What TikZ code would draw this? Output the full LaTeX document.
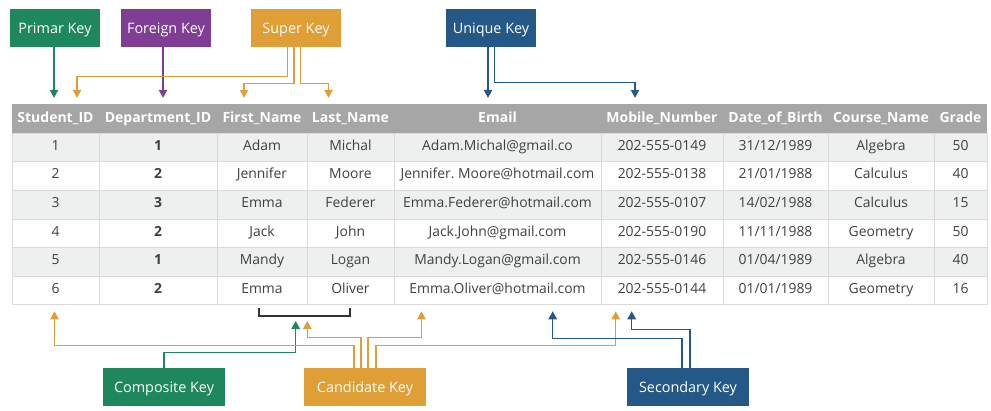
\documentclass[tikz,border=0pt]{standalone}
\usepackage{fontspec}
\setmainfont{Open Sans}
\frenchspacing
\usetikzlibrary{arrows.meta,calc}
\definecolor{pkc}{RGB}{31,135,94}
\definecolor{fkc}{RGB}{128,61,150}
\definecolor{skc}{RGB}{224,158,54}
\definecolor{ukc}{RGB}{36,88,134}
\definecolor{headgrey}{RGB}{165,166,165}
\definecolor{rowgrey}{RGB}{238,240,239}
\definecolor{gridgrey}{RGB}{218,218,218}
\definecolor{bodytext}{RGB}{64,64,64}
\tikzstyle{keybox} = [rectangle, text=white, inner sep=0pt, text height=10.5pt, text depth=0pt,
    minimum width=90pt, minimum height=38pt, font=\fontsize{14.4}{17}\selectfont]
\tikzstyle{head} = [rectangle, fill=headgrey, text=white, inner sep=0pt,
    text height=10.3pt, text depth=2.7pt,
    minimum height=29pt, font=\bfseries\fontsize{14}{17}\selectfont]
\tikzstyle{cell} = [rectangle, draw=gridgrey, text=bodytext, inner sep=0pt,
    text height=10pt, text depth=4pt,
    minimum height=28.6pt, font=\fontsize{13.9}{17}\selectfont]
\tikzstyle{kline} = [-{Triangle[width=8.5pt,length=8pt]}, line width=1.2pt]

\def\colx{{12,99,217,307,394,601,723,828,934,987}}

\begin{document}
\begin{tikzpicture}[x=1pt,y=-1pt]
  \useasboundingbox (0,0) rectangle (991,410);

  % header row
  \foreach \t [count=\c] in {Student\_ID,Department\_ID,First\_Name,Last\_Name,
      Email,Mobile\_Number,Date\_of\_Birth,Course\_Name,Grade} {
    \pgfmathsetmacro\xl{\colx[\c-1]}
    \pgfmathsetmacro\xr{\colx[\c]}
    \pgfmathsetmacro\w{\xr-\xl}
    \node[head, minimum width=\w pt] (h\c) at ({(\xl+\xr)/2},118.5) {\t};
  }

  % table body
  \foreach \row [count=\r] in {
      {1,1,Adam,Michal,Adam.Michal@gmail.co,202-555-0149,31/12/1989,Algebra,50},
      {2,2,Jennifer,Moore,Jennifer. Moore@hotmail.com,202-555-0138,21/01/1988,Calculus,40},
      {3,3,Emma,Federer,Emma.Federer@hotmail.com,202-555-0107,14/02/1988,Calculus,15},
      {4,2,Jack,John,Jack.John@gmail.com,202-555-0190,11/11/1988,Geometry,50},
      {5,1,Mandy,Logan,Mandy.Logan@gmail.com,202-555-0146,01/04/1989,Algebra,40},
      {6,2,Emma,Oliver,Emma.Oliver@hotmail.com,202-555-0144,01/01/1989,Geometry,16}} {
    \ifodd\r\relax \def\rowfill{rowgrey}\else \def\rowfill{white}\fi
    \foreach \v [count=\c] in \row {
      \pgfmathsetmacro\xl{\colx[\c-1]}
      \pgfmathsetmacro\xr{\colx[\c]}
      \pgfmathsetmacro\w{\xr-\xl}
      \pgfmathsetmacro\yc{133+28.6*(\r-1)+14.3}
      \node[cell, fill=\rowfill, minimum width=\w pt] (c\r-\c) at ({(\xl+\xr)/2},\yc)
        {\ifnum\c=2 \bfseries\fi\v};
    }
  }

  % key boxes
  \node[keybox, fill=pkc] (pk)   at (55,28)  {Primar Key};
  \node[keybox, fill=fkc] (fk)   at (166,28) {Foreign Key};
  \node[keybox, fill=skc] (sk)   at (296,28) {Super Key};
  \node[keybox, fill=ukc] (uk)   at (491,28) {Unique Key};
  \node[keybox, fill=pkc, minimum width=122pt] (comp) at (164,387) {Composite Key};
  \node[keybox, fill=skc, minimum width=122pt] (cand) at (365,387) {Candidate Key};
  \node[keybox, fill=ukc, minimum width=122pt] (sec)  at (688,387) {Secondary Key};

  % bracket under the names
  \draw[line width=1.2pt, black!80] (259,308) |- (350,316) -- (350,308);
  \coordinate (brk) at (304.5,316);

  % connectors above the table
  \draw[kline,pkc] ([xshift=-1pt]pk.south) -- ([xshift=-1pt,yshift=6pt]pk.south |- h1.north);
  \draw[kline,fkc] ([xshift=-3pt]fk.south) -- ([xshift=-3pt,yshift=6pt]fk.south |- h2.north);
  \draw[kline,skc] ([xshift=-8.5pt]sk.south) -- ++(0,29) -| ([xshift=21.5pt,yshift=6pt]h1.north);
  \draw[kline,skc] ([xshift=-2pt]sk.south) -- ++(0,36) -| ([xshift=-18pt,yshift=6pt]h3.north);
  \draw[kline,skc] ([xshift=4.5pt]sk.south) -- ++(0,36) -| ([xshift=-22pt,yshift=6pt]h4.north);
  \draw[kline,ukc] ([xshift=-3pt]uk.south) -- ([xshift=-3pt,yshift=6pt]uk.south |- h5.north);
  \draw[kline,ukc] ([xshift=3.3pt]uk.south) -- ++(0,35.3) -| ([xshift=-27pt,yshift=6pt]h6.north);

  % connectors below the table
  \draw[kline,pkc] (comp.north) -- ++(0,-15.3) -| ([xshift=-8.8pt,yshift=-5pt]brk);
  \draw[kline,skc] ([xshift=-11pt]cand.north) -- ++(0,-22.5) -| ([xshift=-1pt,yshift=-6.5pt]c6-1.south);
  \draw[kline,skc] ([xshift=-4pt]cand.north) -- ++(0,-30.3) -| ([xshift=2.8pt,yshift=-5pt]brk);
  \draw[kline,skc] ([xshift=3pt]cand.north) -- ++(0,-30.3) -| ([xshift=-76pt,yshift=-6.5pt]c6-5.south);
  \draw[kline,skc] ([xshift=11pt]cand.north) -- ++(0,-22.5) -| ([xshift=-46.3pt,yshift=-6.5pt]c6-6.south);
  \draw[kline,ukc] ([xshift=-6pt]sec.north) -- ++(0,-29.7) -| ([xshift=55.2pt,yshift=-6.5pt]c6-5.south);
  \draw[kline,ukc] ([xshift=2pt]sec.north) -- ++(0,-38) -| ([xshift=-30.3pt,yshift=-6.5pt]c6-6.south);
\end{tikzpicture}
\end{document}
